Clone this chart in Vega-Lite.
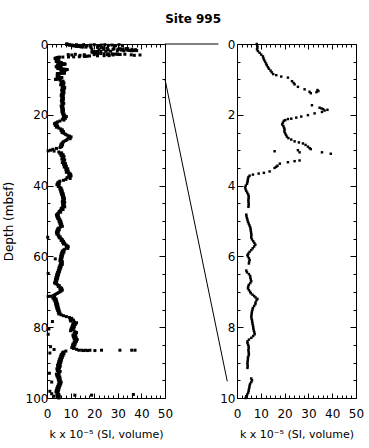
{
"$schema": "https://vega.github.io/schema/vega-lite/v6.json",
"padding": {"left": 2, "top": 12, "right": 0, "bottom": 0},
"bounds": "flush",
"spacing": 0,
"title": {"text": "Site 995", "font": "DejaVu Sans", "fontSize": 12, "fontWeight": "bold", "anchor": "middle", "color": "black", "offset": 12, "dx": 10},
"config": {
  "font": "DejaVu Sans",
  "view": {"stroke": "black", "strokeWidth": 1},
  "axis": {"labelFont": "DejaVu Sans", "labelFontSize": 12, "labelColor": "black", "tickColor": "black", "tickWidth": 1, "titleFont": "DejaVu Sans", "titleColor": "black", "titleFontWeight": "normal", "domain": false, "grid": false, "labelFlush": false, "format": "d"}
},
"data": {"values": [
{"d":0,"k":8.3},{"d":0.05,"k":8.5},{"d":0.1,"k":8.6},{"d":0.15,"k":8.4},{"d":0.2,"k":8.8},{"d":0.25,"k":9.5},{"d":0.3,"k":10.2},{"d":0.35,"k":10.9},{"d":0.4,"k":11.1},{"d":0.45,"k":11.4},{"d":0.5,"k":11.8},{"d":0.55,"k":12.2},{"d":0.6,"k":12.5},{"d":0.65,"k":13},{"d":0.7,"k":13.4},{"d":0.75,"k":14.1},{"d":0.8,"k":14.6},{"d":0.85,"k":15.2},{"d":0.88,"k":16.5},{"d":0.92,"k":18.6},{"d":0.95,"k":21.4},{"d":1.05,"k":23.1},{"d":1.1,"k":23.8},{"d":1.14,"k":24.2},{"d":1.21,"k":25.6},{"d":1.28,"k":28.4},{"d":1.35,"k":30.5},{"d":1.39,"k":31},{"d":1.3,"k":33.8},{"d":1.36,"k":33.4},{"d":1.33,"k":34.2},{"d":1.73,"k":31.5},{"d":1.8,"k":34.7},{"d":1.82,"k":35.5},{"d":1.84,"k":36.2},{"d":1.86,"k":38},{"d":1.88,"k":36.8},{"d":1.92,"k":35.7},{"d":1.96,"k":32.6},{"d":2.01,"k":29.8},{"d":2.05,"k":27},{"d":2.08,"k":24.9},{"d":2.11,"k":22.8},{"d":2.12,"k":21.4},{"d":2.15,"k":20.3},{"d":2.17,"k":19.7},{"d":2.22,"k":19.3},{"d":2.27,"k":19},{"d":2.32,"k":19.5},{"d":2.37,"k":19.8},{"d":2.42,"k":20},{"d":2.47,"k":19.9},{"d":2.52,"k":20.2},{"d":2.57,"k":20.6},{"d":2.62,"k":21},{"d":2.66,"k":21.6},{"d":2.7,"k":22.8},{"d":2.75,"k":24.2},{"d":2.78,"k":26},{"d":2.81,"k":27.7},{"d":2.85,"k":28.8},{"d":2.9,"k":29.8},{"d":2.94,"k":30.5},{"d":2.97,"k":31},{"d":3.03,"k":15.8},{"d":3,"k":25.6},{"d":3.06,"k":26.3},{"d":3.06,"k":35.7},{"d":3.1,"k":39.4},{"d":3.29,"k":26.3},{"d":3.31,"k":24.2},{"d":3.34,"k":21.4},{"d":3.38,"k":18},{"d":3.44,"k":17},{"d":3.47,"k":16.5},{"d":3.5,"k":15.8},{"d":3.6,"k":13.7},{"d":3.64,"k":11.3},{"d":3.66,"k":9.1},{"d":3.69,"k":6.7},{"d":3.72,"k":5.3},{"d":3.76,"k":4.8},{"d":3.81,"k":4.6},{"d":3.86,"k":4.5},{"d":3.9,"k":4.4},{"d":3.95,"k":4.2},{"d":4,"k":3.7},{"d":4.05,"k":3.4},{"d":4.1,"k":3.6},{"d":4.15,"k":3.9},{"d":4.2,"k":4.3},{"d":4.25,"k":4.7},{"d":4.3,"k":4.9},{"d":4.35,"k":4.9},{"d":4.4,"k":4.8},{"d":4.45,"k":4.8},{"d":4.5,"k":4.9},{"d":4.55,"k":4.9},{"d":4.6,"k":4.8},{"d":4.82,"k":3.9},{"d":4.87,"k":4},{"d":4.92,"k":4.2},{"d":4.97,"k":4.4},{"d":5.02,"k":4.6},{"d":5.07,"k":4.9},{"d":5.12,"k":5.2},{"d":5.17,"k":5.5},{"d":5.22,"k":5.7},{"d":5.27,"k":5.8},{"d":5.32,"k":5.9},{"d":5.37,"k":6},{"d":5.42,"k":6},{"d":5.47,"k":6},{"d":5.52,"k":6.3},{"d":5.57,"k":6.8},{"d":5.62,"k":7.3},{"d":5.67,"k":7.7},{"d":5.72,"k":7.2},{"d":5.77,"k":6.6},{"d":5.82,"k":6},{"d":5.87,"k":5.3},{"d":5.92,"k":4.8},{"d":5.96,"k":4.4},{"d":6,"k":4.6},{"d":6.05,"k":5},{"d":6.1,"k":5.3},{"d":6.15,"k":5.1},{"d":6.2,"k":5},{"d":6.4,"k":3.9},{"d":6.45,"k":4.2},{"d":6.5,"k":5},{"d":6.55,"k":5.5},{"d":6.6,"k":5.6},{"d":6.65,"k":5.8},{"d":6.7,"k":6},{"d":6.75,"k":5.6},{"d":6.8,"k":5},{"d":6.85,"k":4.7},{"d":6.9,"k":4.6},{"d":6.95,"k":5},{"d":7,"k":5.5},{"d":7.04,"k":5.8},{"d":7.08,"k":6.5},{"d":7.12,"k":7.2},{"d":7.16,"k":7.8},{"d":7.2,"k":8.6},{"d":7.24,"k":8.2},{"d":7.3,"k":7.8},{"d":7.35,"k":7.7},{"d":7.4,"k":7.2},{"d":7.46,"k":6.7},{"d":7.5,"k":6.5},{"d":7.55,"k":6.3},{"d":7.6,"k":6.2},{"d":7.65,"k":6.1},{"d":7.7,"k":6},{"d":7.75,"k":6.1},{"d":7.8,"k":6.3},{"d":7.85,"k":6.4},{"d":7.9,"k":6.5},{"d":7.95,"k":6.7},{"d":8,"k":6.8},{"d":8.05,"k":6.9},{"d":8.1,"k":7.1},{"d":8.15,"k":7.3},{"d":8.2,"k":7.4},{"d":8.25,"k":6.8},{"d":8.3,"k":6},{"d":8.35,"k":5},{"d":8.4,"k":4.4},{"d":8.45,"k":4.4},{"d":8.5,"k":4.7},{"d":8.55,"k":4.9},{"d":8.6,"k":4.9},{"d":8.65,"k":4.8},{"d":8.7,"k":4.9},{"d":8.75,"k":5},{"d":8.8,"k":4.9},{"d":8.85,"k":4.6},{"d":8.9,"k":4.6},{"d":8.95,"k":4.5},{"d":9,"k":4.4},{"d":9.05,"k":4.4},{"d":9.1,"k":4.5},{"d":9.15,"k":4.4},{"d":9.45,"k":6},{"d":9.5,"k":6.3},{"d":9.55,"k":6},{"d":9.6,"k":5.5},{"d":9.65,"k":5.3},{"d":9.7,"k":5.2},{"d":9.75,"k":5},{"d":9.8,"k":4.9},{"d":9.85,"k":4.7},{"d":9.9,"k":4.3},{"d":9.95,"k":3.9},{"d":10,"k":3.6},
{"d":10.25,"k":5.6},{"d":10.5,"k":6.8},{"d":10.75,"k":6},{"d":11,"k":7.2},{"d":11.25,"k":6.2},{"d":11.5,"k":5.8},{"d":11.75,"k":7},{"d":12,"k":6.4},{"d":12.25,"k":7.5},{"d":12.5,"k":6.6},{"d":12.75,"k":7.3},{"d":13,"k":6.2},{"d":13.25,"k":7},{"d":13.5,"k":6.5},{"d":13.75,"k":7.2},{"d":14,"k":6.3},{"d":14.25,"k":6.9},{"d":14.5,"k":6},{"d":14.75,"k":6.8},{"d":15,"k":6.2},{"d":15.25,"k":7},{"d":15.5,"k":6.4},{"d":15.75,"k":6.9},{"d":16,"k":6.1},{"d":16.25,"k":6.7},{"d":16.5,"k":6.3},{"d":16.75,"k":7.1},{"d":17,"k":6.5},{"d":17.25,"k":6.8},{"d":17.5,"k":6},{"d":17.75,"k":6.6},{"d":18,"k":6.2},{"d":18.25,"k":6.9},{"d":18.5,"k":6.4},{"d":18.75,"k":7},{"d":19,"k":6.3},{"d":19.25,"k":6.8},{"d":19.5,"k":6.5},{"d":19.75,"k":7.2},{"d":20,"k":6.8},
{"d":20.25,"k":7.5},{"d":20.5,"k":8.2},{"d":20.75,"k":7},{"d":21,"k":7.8},{"d":21.25,"k":6.5},{"d":21.5,"k":7.2},{"d":21.75,"k":5.5},{"d":22,"k":4.5},{"d":22.25,"k":3.8},{"d":22.5,"k":3.2},{"d":22.75,"k":4.2},{"d":23,"k":3.5},{"d":23.25,"k":4.5},{"d":23.5,"k":4},{"d":23.75,"k":5},{"d":24,"k":5.8},{"d":24.25,"k":6.5},{"d":24.5,"k":6},{"d":24.75,"k":7},{"d":25,"k":6.4},{"d":25.25,"k":7.2},{"d":25.5,"k":7.8},{"d":25.75,"k":8.5},{"d":26,"k":9.5},{"d":26.25,"k":10.2},{"d":26.5,"k":9},{"d":26.75,"k":9.8},{"d":27,"k":8.5},{"d":27.25,"k":8},{"d":27.5,"k":7.2},{"d":27.75,"k":6.8},{"d":28,"k":6.5},{"d":28.25,"k":6},{"d":28.5,"k":6.6},{"d":28.75,"k":5.8},{"d":29,"k":6.2},{"d":29.25,"k":5.5},{"d":29.5,"k":4},{"d":29.75,"k":2.5},{"d":30,"k":1.5},{"d":30.25,"k":3},{"d":30.5,"k":5},
{"d":30.75,"k":6.2},{"d":31,"k":5.5},{"d":31.25,"k":6.8},{"d":31.5,"k":6},{"d":31.75,"k":7.2},{"d":32,"k":6.5},{"d":32.25,"k":7},{"d":32.5,"k":6.3},{"d":32.75,"k":7.5},{"d":33,"k":6.8},{"d":33.25,"k":7.2},{"d":33.5,"k":6.5},{"d":33.75,"k":7.8},{"d":34,"k":7},{"d":34.25,"k":7.5},{"d":34.5,"k":8.2},{"d":34.75,"k":7.3},{"d":35,"k":8},{"d":35.25,"k":8.8},{"d":35.5,"k":8},{"d":35.75,"k":8.5},{"d":36,"k":9},{"d":36.25,"k":8.2},{"d":36.5,"k":9.5},{"d":36.75,"k":10},{"d":37,"k":9.2},{"d":37.25,"k":10.2},{"d":37.5,"k":9.6},{"d":37.75,"k":8.5},{"d":38,"k":9.8},{"d":38.25,"k":8},{"d":38.5,"k":7},{"d":38.75,"k":5.5},{"d":39,"k":5},
{"d":39.25,"k":4.5},{"d":39.5,"k":5.2},{"d":39.75,"k":4.2},{"d":40,"k":5},{"d":40.25,"k":4.8},{"d":40.5,"k":5.5},{"d":40.75,"k":6},{"d":41,"k":5.5},{"d":41.25,"k":6.3},{"d":41.5,"k":5.8},{"d":41.75,"k":6.5},{"d":42,"k":6},{"d":42.25,"k":6.8},{"d":42.5,"k":6.2},{"d":42.75,"k":7},{"d":43,"k":6.5},{"d":43.25,"k":7.2},{"d":43.5,"k":6.6},{"d":43.75,"k":7.4},{"d":44,"k":6.8},{"d":44.25,"k":7.2},{"d":44.5,"k":6.5},{"d":44.75,"k":7.5},{"d":45,"k":7},{"d":45.25,"k":6.6},{"d":45.5,"k":7.3},{"d":45.75,"k":6.8},{"d":46,"k":7.5},{"d":46.25,"k":6.4},{"d":46.5,"k":6},{"d":46.75,"k":6.8},{"d":47,"k":5.8},{"d":47.25,"k":5.2},{"d":47.5,"k":5.8},{"d":47.75,"k":4.8},{"d":48,"k":4.5},
{"d":48.25,"k":4},{"d":48.5,"k":4.8},{"d":48.75,"k":4.2},{"d":49,"k":5},{"d":49.25,"k":4.5},{"d":49.5,"k":5.4},{"d":49.75,"k":5},{"d":50,"k":5.8},{"d":50.25,"k":5.2},{"d":50.5,"k":6},{"d":50.75,"k":5.5},{"d":51,"k":6.2},{"d":51.25,"k":5.8},{"d":51.5,"k":6.5},{"d":51.75,"k":5.6},{"d":52,"k":5},{"d":52.25,"k":4.5},{"d":52.5,"k":5.2},{"d":52.75,"k":4.2},{"d":53,"k":4.8},{"d":53.25,"k":4},{"d":53.5,"k":4.6},{"d":53.75,"k":4.2},{"d":54,"k":5},{"d":54.25,"k":4.8},{"d":54.5,"k":5.6},{"d":54.75,"k":5.2},{"d":55,"k":6},
{"d":55.25,"k":6.5},{"d":55.5,"k":6},{"d":55.75,"k":7},{"d":56,"k":6.6},{"d":56.25,"k":7.5},{"d":56.5,"k":7},{"d":56.75,"k":8},{"d":57,"k":8.5},{"d":57.25,"k":9},{"d":57.5,"k":8.2},{"d":57.75,"k":8.8},{"d":58,"k":7.5},{"d":58.25,"k":7},{"d":58.5,"k":6.5},{"d":58.75,"k":7.2},{"d":59,"k":6.2},{"d":59.25,"k":6.8},{"d":59.5,"k":6},{"d":59.75,"k":6.5},{"d":60,"k":5.8},{"d":60.25,"k":6.4},{"d":60.5,"k":6},{"d":60.75,"k":5.6},{"d":61,"k":6.2},{"d":61.25,"k":5.5},{"d":61.5,"k":6.5},{"d":61.75,"k":6},{"d":62,"k":5.8},{"d":62.25,"k":6.5},{"d":62.5,"k":5.5},{"d":62.75,"k":6},{"d":63,"k":5.2},{"d":63.25,"k":5.8},{"d":63.5,"k":5},{"d":63.75,"k":5.5},{"d":64,"k":4.8},{"d":64.25,"k":5.3},{"d":64.5,"k":4.5},{"d":64.75,"k":5},{"d":65,"k":4.2},
{"d":65.25,"k":4.8},{"d":65.5,"k":4},{"d":65.75,"k":4.6},{"d":66,"k":3.8},{"d":66.25,"k":4.4},{"d":66.5,"k":3.6},{"d":66.75,"k":4.2},{"d":67,"k":3.5},{"d":67.25,"k":4},{"d":67.5,"k":3.2},{"d":67.75,"k":3.8},{"d":68,"k":4.5},{"d":68.25,"k":5.2},{"d":68.5,"k":4.8},{"d":68.75,"k":5.6},{"d":69,"k":6.2},{"d":69.25,"k":5.5},{"d":69.5,"k":6.5},{"d":69.75,"k":6},{"d":70,"k":5.5},
{"d":70.25,"k":4.8},{"d":70.5,"k":4.2},{"d":70.75,"k":3.5},{"d":71,"k":2.8},{"d":71.25,"k":1.5},{"d":71.5,"k":3.2},{"d":71.75,"k":2.5},{"d":72,"k":3.8},{"d":72.25,"k":3},{"d":72.5,"k":4},{"d":72.75,"k":3.4},{"d":73,"k":4.2},{"d":73.25,"k":3.6},{"d":73.5,"k":4.5},{"d":73.75,"k":3.8},{"d":74,"k":4.6},{"d":74.25,"k":4},{"d":74.5,"k":4.8},{"d":74.75,"k":4.2},{"d":75,"k":5},{"d":75.25,"k":4.5},{"d":75.5,"k":5.2},{"d":75.75,"k":4.8},{"d":76,"k":5.5},{"d":76.25,"k":5},{"d":76.5,"k":6},
{"d":76.75,"k":7},{"d":77,"k":8.2},{"d":77.25,"k":9.5},{"d":77.5,"k":10.5},{"d":77.75,"k":9.8},{"d":78,"k":11.2},{"d":78.25,"k":10},{"d":78.5,"k":11.5},{"d":78.75,"k":12.5},{"d":79,"k":11},{"d":79.25,"k":12},{"d":79.5,"k":10.8},{"d":79.75,"k":11.6},{"d":80,"k":10.5},{"d":80.25,"k":11.4},{"d":80.5,"k":10.2},{"d":80.75,"k":11},{"d":81,"k":10},{"d":81.25,"k":11.8},{"d":81.5,"k":12.5},{"d":81.75,"k":11.5},{"d":82,"k":12.2},{"d":82.25,"k":11},{"d":82.5,"k":12},{"d":82.75,"k":11.2},{"d":83,"k":12.4},{"d":83.25,"k":11.5},{"d":83.5,"k":12.8},{"d":83.75,"k":11.8},{"d":84,"k":12.5},{"d":84.25,"k":11.5},{"d":84.5,"k":12},{"d":84.75,"k":11},{"d":85,"k":11.8},{"d":85.25,"k":10.8},{"d":85.5,"k":11.5},{"d":85.75,"k":10.5},{"d":86,"k":11.2},{"d":86.25,"k":12.5},
{"d":86.5,"k":13.5},{"d":86.5,"k":14.7},{"d":86.6,"k":15.5},{"d":86.5,"k":16.4},{"d":86.6,"k":17.2},{"d":86.5,"k":18.2},{"d":86.6,"k":20.3},{"d":86.5,"k":23.1},{"d":86.5,"k":30.9},{"d":86.5,"k":35.9},{"d":86.5,"k":37.3},
{"d":86.75,"k":8},{"d":87,"k":7},{"d":87.25,"k":6.5},{"d":87.5,"k":7.2},{"d":87.75,"k":6},{"d":88,"k":6.8},{"d":88.25,"k":5.8},{"d":88.5,"k":6.5},{"d":88.75,"k":5.5},{"d":89,"k":6.2},{"d":89.25,"k":5.2},{"d":89.5,"k":6},{"d":89.75,"k":5},{"d":90,"k":5.8},{"d":90.25,"k":4.8},{"d":90.5,"k":5.5},{"d":90.75,"k":4.5},{"d":91,"k":5.6},{"d":91.25,"k":4.6},{"d":91.5,"k":5.3},{"d":91.75,"k":4.2},{"d":92,"k":5},{"d":92.25,"k":4.4},{"d":92.5,"k":5.6},{"d":92.75,"k":4.8},{"d":93,"k":5.2},{"d":93.25,"k":4},{"d":93.5,"k":4.8},{"d":93.75,"k":4.2},{"d":94,"k":5.4},{"d":94.25,"k":4.6},{"d":94.5,"k":5.5},{"d":94.75,"k":4.8},{"d":95,"k":5.6},{"d":95.25,"k":5},{"d":95.5,"k":6},{"d":95.75,"k":5.2},{"d":96,"k":5.8},{"d":96.25,"k":4.8},{"d":96.5,"k":5.5},{"d":96.75,"k":4.5},{"d":97,"k":5.2},{"d":97.25,"k":4.2},{"d":97.5,"k":5},{"d":97.75,"k":4},{"d":98,"k":4.8},{"d":98.25,"k":3.8},{"d":98.5,"k":4.6},{"d":98.75,"k":4.2},{"d":99,"k":5},{"d":99.25,"k":4.4},{"d":99.5,"k":5.2},{"d":99.75,"k":4.6},{"d":100,"k":5},
{"d":30.2,"k":0.5,"s":"w"},{"d":54.6,"k":0.3,"s":"w"},{"d":64.8,"k":0.5,"s":"w"},{"d":71.3,"k":0.5,"s":"w"},{"d":60.7,"k":3.5,"s":"w"},{"d":78.4,"k":2.3,"s":"w"},{"d":80.5,"k":0.8,"s":"w"},{"d":82,"k":0.5,"s":"w"},{"d":85.5,"k":1.5,"s":"w"},{"d":86.3,"k":3,"s":"w"},{"d":87.3,"k":1.2,"s":"w"},{"d":93,"k":1,"s":"w"},{"d":95.5,"k":2,"s":"w"},{"d":98.1,"k":1.2,"s":"w"},{"d":99.2,"k":11.8,"s":"w"},{"d":99.2,"k":18.9,"s":"w"},{"d":99,"k":36.6,"s":"w"},{"d":98.8,"k":2,"s":"w"},{"d":99.5,"k":3,"s":"w"},
{"d":0.3,"k":9.5,"s":"w"},{"d":0.5,"k":11,"s":"w"},{"d":0.2,"k":12.5,"s":"w"},{"d":0.4,"k":14,"s":"w"},{"d":0.2,"k":15.5,"s":"w"},{"d":0.5,"k":17,"s":"w"},{"d":0.3,"k":18.5,"s":"w"},{"d":0.2,"k":20,"s":"w"},{"d":0.5,"k":21.5,"s":"w"},{"d":0.3,"k":23,"s":"w"},{"d":0.2,"k":24.5,"s":"w"},{"d":0.4,"k":26,"s":"w"},{"d":0.3,"k":27.5,"s":"w"},{"d":0.5,"k":29,"s":"w"},{"d":0.2,"k":30.5,"s":"w"},{"d":0.4,"k":32,"s":"w"},
{"d":1.4,"k":19,"s":"w"},{"d":1.6,"k":22,"s":"w"},{"d":1.5,"k":24,"s":"w"},{"d":1.7,"k":26,"s":"w"},{"d":1.5,"k":28,"s":"w"},{"d":1.6,"k":30,"s":"w"},{"d":1.4,"k":32,"s":"w"},{"d":1.7,"k":34,"s":"w"},{"d":1.5,"k":36,"s":"w"},{"d":1.6,"k":37.5,"s":"w"},
{"d":3,"k":9,"s":"w"},{"d":3.1,"k":10.5,"s":"w"},{"d":2.9,"k":12,"s":"w"},{"d":3.2,"k":14,"s":"w"},{"d":3,"k":20,"s":"w"},{"d":3.1,"k":28,"s":"w"},{"d":2.9,"k":33,"s":"w"},{"d":3.2,"k":37,"s":"w"}
]},
"hconcat": [
  {
    "width": 118, "height": 354,
    "layer": [
      {
        "mark": {"type": "square", "size": 9, "color": "black", "opacity": 1},
        "encoding": {
          "x": {"field": "k", "type": "quantitative", "scale": {"domain": [0, 50], "nice": false},
            "axis": {"orient": "bottom", "values": [0,2,4,6,8,10,12,14,16,18,20,22,24,26,28,30,32,34,36,38,40,42,44,46,48,50],
              "labelExpr": "datum.value % 10 === 0 ? datum.label : ''",
              "tickSize": {"condition": {"test": "datum.value % 10 === 0", "value": -5}, "value": -3},
              "labelPadding": 15, "title": "k x 10⁻⁵ (SI, volume)", "titleFontSize": 11, "titlePadding": 9}},
          "y": {"field": "d", "type": "quantitative", "scale": {"domain": [0, 100], "reverse": true, "nice": false},
            "axis": {"orient": "left", "values": [0,5,10,15,20,25,30,35,40,45,50,55,60,65,70,75,80,85,90,95,100],
              "labelExpr": "datum.value % 20 === 0 ? datum.label : ''",
              "tickSize": {"condition": {"test": "datum.value % 20 === 0", "value": -6}, "value": -3},
              "labelPadding": 5, "title": "Depth (mbsf)", "titleFontSize": 12, "titlePadding": 9.5}}
        }
      },
      {
        "mark": {"type": "square", "opacity": 0},
        "encoding": {
          "x": {"field": "k", "type": "quantitative",
            "axis": {"orient": "top", "labels": false, "title": null, "values": [0,2,4,6,8,10,12,14,16,18,20,22,24,26,28,30,32,34,36,38,40,42,44,46,48,50],
              "tickSize": {"condition": {"test": "datum.value % 10 === 0", "value": -5}, "value": -3}}},
          "y": {"field": "d", "type": "quantitative",
            "axis": {"orient": "right", "labels": false, "title": null, "values": [0,5,10,15,20,25,30,35,40,45,50,55,60,65,70,75,80,85,90,95,100],
              "tickSize": {"condition": {"test": "datum.value % 20 === 0", "value": -6}, "value": -3}}}
        }
      }
    ],
    "resolve": {"axis": {"x": "independent", "y": "independent"}}
  },
  {
    "width": 71.6, "height": 354,
    "view": {"stroke": null},
    "data": {"values": [{"x0": 0, "x1": 0.745, "y0": 0, "y1": 0}, {"x0": 0, "x1": 0.87, "y0": 10, "y1": 95.3}]},
    "mark": {"type": "rule", "color": "black", "strokeWidth": 1},
    "encoding": {
      "x": {"field": "x0", "type": "quantitative", "scale": {"domain": [0, 1], "nice": false}, "axis": null},
      "x2": {"field": "x1"},
      "y": {"field": "y0", "type": "quantitative", "scale": {"domain": [0, 100], "reverse": true, "nice": false}, "axis": null},
      "y2": {"field": "y1"}
    }
  },
  {
    "width": 119, "height": 354,
    "transform": [{"filter": "datum.s !== 'w' && datum.d <= 10"}],
    "layer": [
      {
        "mark": {"type": "square", "size": 6, "color": "black", "opacity": 1},
        "encoding": {
          "x": {"field": "k", "type": "quantitative", "scale": {"domain": [0, 50], "nice": false},
            "axis": {"orient": "bottom", "values": [0,2,4,6,8,10,12,14,16,18,20,22,24,26,28,30,32,34,36,38,40,42,44,46,48,50],
              "labelExpr": "datum.value % 10 === 0 ? datum.label : ''",
              "tickSize": {"condition": {"test": "datum.value % 10 === 0", "value": -5}, "value": -3},
              "labelPadding": 15, "title": "k x 10⁻⁵ (SI, volume)", "titleFontSize": 11, "titlePadding": 9}},
          "y": {"field": "d", "type": "quantitative", "scale": {"domain": [0, 10], "reverse": true, "nice": false},
            "axis": {"orient": "left", "values": [0,0.5,1,1.5,2,2.5,3,3.5,4,4.5,5,5.5,6,6.5,7,7.5,8,8.5,9,9.5,10],
              "labelExpr": "datum.value % 2 === 0 ? datum.label : ''",
              "tickSize": {"condition": {"test": "datum.value % 2 === 0", "value": -6}, "value": -3},
              "labelPadding": 8, "title": null}}
        }
      },
      {
        "mark": {"type": "square", "opacity": 0},
        "encoding": {
          "x": {"field": "k", "type": "quantitative",
            "axis": {"orient": "top", "labels": false, "title": null, "values": [0,2,4,6,8,10,12,14,16,18,20,22,24,26,28,30,32,34,36,38,40,42,44,46,48,50],
              "tickSize": {"condition": {"test": "datum.value % 10 === 0", "value": -5}, "value": -3}}},
          "y": {"field": "d", "type": "quantitative",
            "axis": {"orient": "right", "labels": false, "title": null, "values": [0,0.5,1,1.5,2,2.5,3,3.5,4,4.5,5,5.5,6,6.5,7,7.5,8,8.5,9,9.5,10],
              "tickSize": {"condition": {"test": "datum.value % 2 === 0", "value": -6}, "value": -3}}}
        }
      }
    ],
    "resolve": {"axis": {"x": "independent", "y": "independent"}}
  }
]
}
